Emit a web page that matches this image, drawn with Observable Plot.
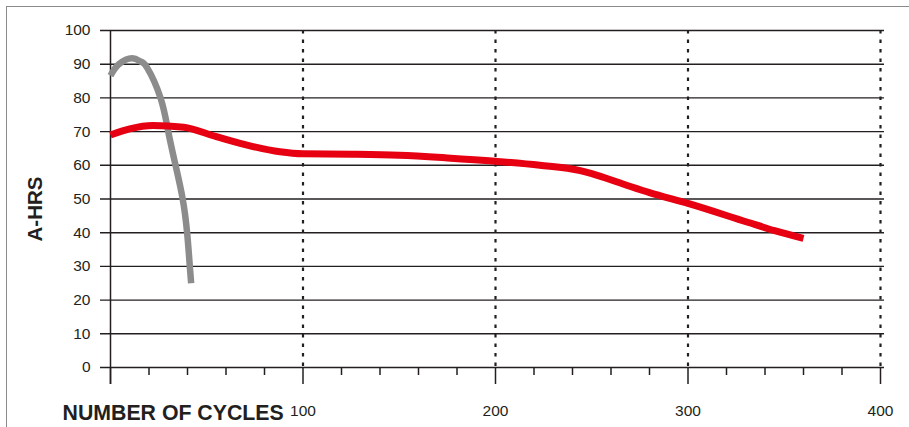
<!DOCTYPE html>
<html>
<head>
<meta charset="utf-8">
<script src="https://cdn.jsdelivr.net/npm/d3@7"></script>
<script src="https://cdn.jsdelivr.net/npm/@observablehq/plot@0.6"></script>
<style>
  html, body { margin: 0; padding: 0; background: #fff; }
  #wrap { position: relative; width: 909px; height: 427px; overflow: hidden; font-family: "Liberation Sans", Arial, sans-serif; }
  #frame { position: absolute; left: 6px; top: 6px; width: 940px; height: 460px; border: 1.6px solid #8a8a8a; box-sizing: border-box; }
  #chart { position: absolute; left: 0; top: 0; }
</style>
</head>
<body>
<div id="wrap"><div id="frame"></div><div id="chart"></div></div>
<script>
// Red series (cycles, A-HRS)
const redCycles = [0, 10, 22, 38, 55, 73, 88, 100, 125, 150, 175, 200, 223, 244, 250, 267, 280, 300, 331, 345, 360];
const redValues = [69, 70.8, 71.8, 71.3, 68.5, 65.7, 64, 63.4, 63.3, 63, 62.2, 61.2, 60, 58.4, 57.5, 54.3, 51.9, 48.7, 43.1, 40.6, 38.3];
// Gray series
const grayCycles = [0, 4.3, 11.3, 15.6, 19, 26, 30, 33.8, 37.5, 39.8, 41.2, 41.9];
const grayValues = [86.6, 90, 91.8, 90.8, 89, 80, 70, 60, 50, 40, 30, 25];

const yTicks = [0, 10, 20, 30, 40, 50, 60, 70, 80, 90, 100];
const xMajor = [0, 100, 200, 300, 400];
const xMinor = [20, 40, 60, 80, 120, 140, 160, 180, 220, 240, 260, 280, 320, 340, 360, 380];
const xLabel = "NUMBER OF CYCLES";
const yLabel = "A-HRS";

const red = redCycles.map((c, i) => ({cycles: c, ahrs: redValues[i]}));
const gray = grayCycles.map((c, i) => ({cycles: c, ahrs: grayValues[i]}));

const ink = "#231f20";

const chart = Plot.plot({
  width: 909,
  height: 427,
  marginLeft: 110,
  marginRight: 29,
  marginTop: 30,
  marginBottom: 60,
  style: {background: "transparent", fontFamily: "'Liberation Sans', Arial, sans-serif", color: ink},
  x: {domain: [0, 400]},
  y: {domain: [0, 100]},
  marks: [
    Plot.ruleY(yTicks, {stroke: ink, strokeWidth: 1.4, insetLeft: -10, insetRight: -4}),
    Plot.ruleX(xMajor.filter(d => d > 0), {stroke: ink, strokeWidth: 2.2, strokeDasharray: "3.5,6"}),
    Plot.ruleX([0], {stroke: ink, strokeWidth: 1.5, insetBottom: -17}),
    Plot.axisX({ticks: xMinor, tickSize: 8, tickFormat: () => "", stroke: ink, strokeWidth: 1.5, label: null}),
    Plot.axisX({ticks: xMajor, tickSize: 17, tickPadding: 20, tickFormat: d => d === 0 ? "" : String(d), stroke: ink, strokeWidth: 1.5, fontSize: 15.5, fill: ink, label: null}),
    Plot.axisY({ticks: yTicks, tickSize: 0, tickPadding: 20, fontSize: 15.5, fill: ink, label: null}),
    Plot.line(gray, {x: "cycles", y: "ahrs", stroke: "#8c8c8c", strokeWidth: 6.5, curve: "natural", strokeLinecap: "butt"}),
    Plot.line(red, {x: "cycles", y: "ahrs", stroke: "#e60012", strokeWidth: 7, curve: "monotone-x", strokeLinecap: "butt"}),
    Plot.text([xLabel], {frameAnchor: "bottom-left", text: d => d, textAnchor: "start", lineAnchor: "bottom", dx: -48, dy: 52, fontSize: 21.3, fontWeight: "bold", fill: ink}),
    Plot.text([yLabel], {frameAnchor: "left", text: d => d, rotate: -90, textAnchor: "middle", lineAnchor: "middle", dx: -75, dy: 10, fontSize: 20.5, fontWeight: "bold", fill: ink})
  ]
});
document.getElementById("chart").appendChild(chart);
</script>
</body>
</html>
